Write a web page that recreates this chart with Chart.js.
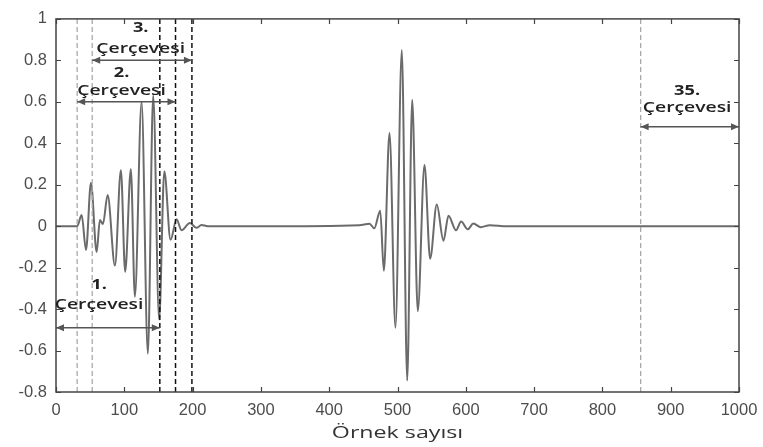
<!DOCTYPE html>
<html><head><meta charset="utf-8">
<script src="https://cdn.jsdelivr.net/npm/chart.js@4"></script>
<style>html,body{margin:0;padding:0;background:#fff}</style>
</head><body>
<canvas id="c" width="763" height="447"></canvas>
<script>
// ---- data ----
const sampleIdx = [0, 25, 31, 37.6, 43.9, 51.2, 59.5, 64.3, 68.7, 75.6, 86.3, 95, 101.3, 109.6, 115.5, 125.3, 134.5, 142.3, 151, 158.6, 167.7, 176.5, 183.8, 196, 205.7, 213, 222, 240, 300, 444, 459, 466, 474.7, 480, 488.3, 497, 506.3, 514.2, 521.5, 529.7, 539.5, 547.8, 557.5, 567.3, 574.6, 585.8, 593.1, 603, 611, 622, 635, 660, 1000];
const amplitude = [0, 0, 0, 0.054, -0.115, 0.21, -0.125, 0.03, 0.01, 0.15, -0.19, 0.27, -0.22, 0.275, -0.34, 0.6, -0.615, 0.63, -0.45, 0.265, -0.066, 0.033, -0.02, 0.015, -0.008, 0.006, 0, 0, 0, 0.005, 0.012, -0.01, 0.075, -0.215, 0.45, -0.49, 0.85, -0.745, 0.61, -0.41, 0.295, -0.157, 0.105, -0.07, 0.05, -0.02, 0.022, -0.015, 0.013, -0.005, 0.005, 0, 0];
const xTicks = [0, 100, 200, 300, 400, 500, 600, 700, 800, 900, 1000];
const yTicks = [-0.8, -0.6, -0.4, -0.2, 0, 0.2, 0.4, 0.6, 0.8, 1];
const xTitle = 'Örnek sayısı';
const frameNumbers = ['1.', '2.', '3.', '35.'];
const frameWord = 'Çerçevesi';
const frameStart = [0, 31, 53, 856];
const frameEnd = [152, 175, 199, 1000];
const frameArrowY = [-0.49, 0.6, 0.8, 0.48];
const grayLines = [31, 53, 856];
const blackLines = [152, 175, 199];
// label anchors (data units)
const labelAnchorX = [63, 96, 124, 924];
const numberAnchorY = [-0.284, 0.74, 0.954, 0.654];
const wordAnchorY = [-0.379, 0.654, 0.853, 0.57];

const datasets = [];
datasets.push({
  data: sampleIdx.map((x, i) => ({x, y: amplitude[i]})),
  borderColor: '#6b6b6b', borderWidth: 2, pointRadius: 0,
  cubicInterpolationMode: 'monotone', order: 3
});
grayLines.forEach(v => datasets.push({
  data: [{x: v, y: -0.8}, {x: v, y: 1}],
  borderColor: '#a9a9a9', borderWidth: 1.3, borderDash: [5, 3], pointRadius: 0, order: 2
}));
blackLines.forEach(v => datasets.push({
  data: [{x: v, y: -0.8}, {x: v, y: 1}],
  borderColor: '#111', borderWidth: 1.5, borderDash: [5, 3], pointRadius: 0, order: 2
}));
frameStart.forEach((s, i) => datasets.push({
  data: [{x: s, y: frameArrowY[i]}, {x: frameEnd[i], y: frameArrowY[i]}],
  borderColor: '#555', borderWidth: 1.5, pointRadius: 0, order: 1
}));

function stretchText(ctx, text, x, y, font, sx, color) {
  ctx.save();
  ctx.font = font; ctx.fillStyle = color;
  ctx.textAlign = 'center'; ctx.textBaseline = 'middle';
  ctx.translate(x, y); ctx.scale(sx, 1);
  ctx.fillText(text, 0, 0);
  ctx.restore();
}

const decor = {
  id: 'decor',
  afterDraw(chart) {
    const {ctx, chartArea: a, scales: {x, y}} = chart;
    ctx.save();
    ctx.strokeStyle = '#444'; ctx.lineWidth = 1.5;
    ctx.strokeRect(a.left, a.top, a.right - a.left, a.bottom - a.top);
    ctx.beginPath();
    xTicks.forEach(v => {
      const px = Math.round(x.getPixelForValue(v)) + 0.5;
      ctx.moveTo(px, a.bottom); ctx.lineTo(px, a.bottom - 5);
      ctx.moveTo(px, a.top); ctx.lineTo(px, a.top + 5);
    });
    yTicks.forEach(v => {
      const py = Math.round(y.getPixelForValue(v)) + 0.5;
      ctx.moveTo(a.left, py); ctx.lineTo(a.left + 5, py);
      ctx.moveTo(a.right, py); ctx.lineTo(a.right - 5, py);
    });
    ctx.lineWidth = 1.2; ctx.stroke();
    ctx.fillStyle = '#555';
    frameStart.forEach((s, i) => {
      const py = y.getPixelForValue(frameArrowY[i]);
      const x1 = x.getPixelForValue(s), x2 = x.getPixelForValue(frameEnd[i]);
      ctx.beginPath();
      ctx.moveTo(x1, py); ctx.lineTo(x1 + 8, py - 3.5); ctx.lineTo(x1 + 8, py + 3.5); ctx.closePath(); ctx.fill();
      ctx.beginPath();
      ctx.moveTo(x2, py); ctx.lineTo(x2 - 8, py - 3.5); ctx.lineTo(x2 - 8, py + 3.5); ctx.closePath(); ctx.fill();
    });
    frameNumbers.forEach((t, i) => {
      const px = x.getPixelForValue(labelAnchorX[i]);
      stretchText(ctx, t, px, y.getPixelForValue(numberAnchorY[i]), 'bold 14px "Open Sans"', 1.3, '#222');
      stretchText(ctx, frameWord, px, y.getPixelForValue(wordAnchorY[i]), '600 14px "Open Sans"', 1.38, '#222');
    });
    stretchText(ctx, xTitle, (a.left + a.right) / 2, 433, '16px "Open Sans"', 1.45, '#333');
    ctx.restore();
  }
};

const tickFont = {family: '"Liberation Sans", Arial, sans-serif', size: 16.5};
new Chart(document.getElementById('c'), {
  type: 'line',
  data: {datasets},
  options: {
    responsive: false, animation: false, devicePixelRatio: 1,
    layout: {padding: {top: 12, right: 24, left: 0, bottom: 0}},
    plugins: {legend: {display: false}, tooltip: {enabled: false}},
    scales: {
      x: {
        type: 'linear', min: 0, max: 1000,
        afterBuildTicks: s => { s.ticks = xTicks.map(v => ({value: v})); },
        afterFit: s => { s.height = 55; s.paddingLeft = 0; s.paddingRight = 0; },
        grid: {display: false, drawTicks: false},
        border: {display: false},
        ticks: {font: tickFont, color: '#4d4d4d', padding: 9, maxRotation: 0, autoSkip: false, callback: v => String(v)}
      },
      y: {
        type: 'linear', min: -0.8, max: 1,
        afterBuildTicks: s => { s.ticks = yTicks.map(v => ({value: v})); },
        afterFit: s => { s.width = 56; },
        grid: {display: false, drawTicks: false},
        border: {display: false},
        ticks: {font: tickFont, color: '#4d4d4d', padding: 9, autoSkip: false, callback: v => String(Number(v.toFixed(1)))}
      }
    }
  },
  plugins: [decor]
});
</script>
</body></html>
